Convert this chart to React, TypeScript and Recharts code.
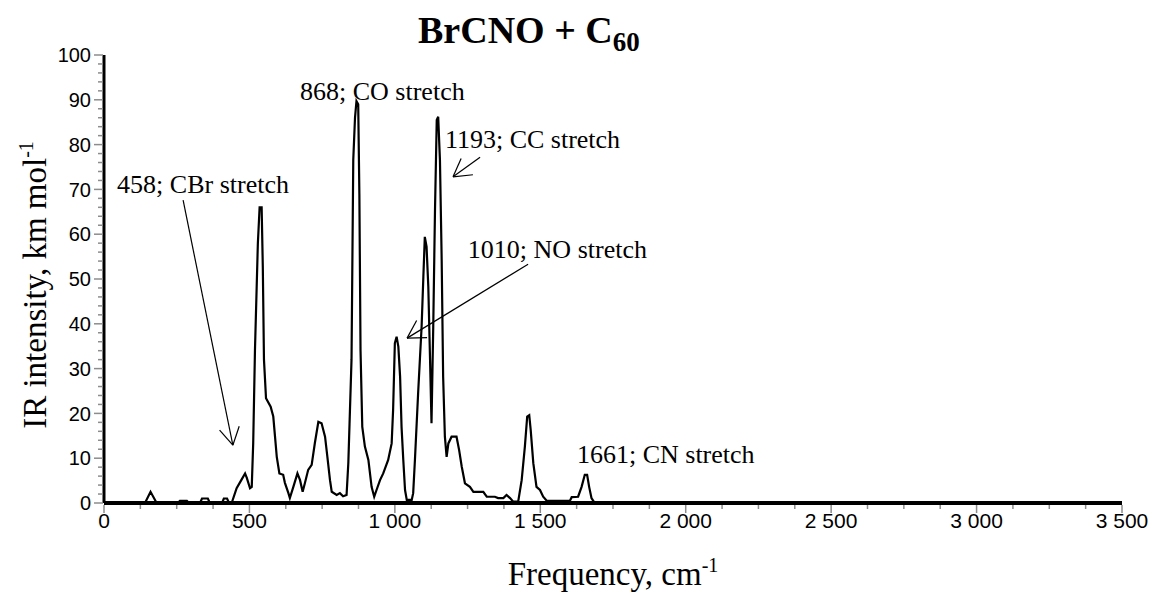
import { LineChart, Line, XAxis, YAxis, ReferenceLine, ReferenceDot, Label } from "recharts";

// spectrum: frequency (cm-1) and IR intensity (km/mol)
const FREQ = [
  0, 141, 160, 181, 254, 261, 285, 292, 330, 337, 357, 364, 406, 412, 423, 430, 439, 456, 471, 485, 491, 502, 508, 513, 519,
  529, 535, 542, 546, 550, 557, 573, 582, 588, 594, 603, 616, 622, 634, 639, 651, 665, 674, 683, 691, 702, 714, 725, 737, 748,
  760, 768, 777, 783, 800, 811, 822, 834, 840, 851, 857, 863, 868, 874, 878, 882, 888, 897, 909, 920, 929, 937, 949, 960, 977,
  989, 994, 1000, 1006, 1012, 1018, 1023, 1029, 1035, 1041, 1058, 1063, 1069, 1080, 1092, 1098, 1103, 1109, 1115, 1121, 1126,
  1132, 1138, 1144, 1149, 1155, 1161, 1166, 1172, 1178, 1184, 1195, 1212, 1221, 1230, 1241, 1258, 1270, 1304, 1316, 1344,
  1355, 1373, 1384, 1396, 1407, 1424, 1436, 1447, 1455, 1462, 1467, 1476, 1487, 1499, 1510, 1522, 1602, 1608, 1630, 1642,
  1653, 1661, 1668, 1676, 1684, 1691, 3500,
];
const INTENSITY = [
  0, 0, 2.5, 0, 0, 0.5, 0.5, 0, 0, 1, 1, 0, 0, 1, 1, 0, 0, 3.3, 5, 6.6, 5.6, 3.3, 3.6, 13.4, 34,
  58, 66, 66, 52.7, 32, 23.4, 21.5, 19.3, 14.8, 10.3, 6.6, 6.3, 4.5, 2.2, 1.1, 3.6, 6.6, 5.1, 2.5, 4.5, 7.4, 8.5, 13.4, 18.1, 17.8,
  14.8, 10.3, 5.1, 2.5, 1.8, 2.2, 1.5, 1.8, 8.9, 32, 76.6, 86, 89.7, 89, 69, 34, 17, 12.6, 9.6, 3.6, 1.4, 2.9, 5.1, 6.6, 9.6,
  13.3, 20.8, 35.7, 37.1, 34.9, 28.2, 17, 9.6, 2.9, 0.7, 0.7, 2.2, 9.6, 24.5, 39.4, 50.5, 59.4, 57.2, 48.3, 32, 17.8,
  39.4, 65.4, 85.5, 86.2, 76.6, 54.2, 28.2, 14.8, 10.3, 13.3, 14.8, 14.8, 11.8, 8.1, 4.4, 3.6, 2.5, 2.5, 1.4, 1.4,
  1.1, 1.1, 1.8, 1.1, 0.3, 0.3, 5.1, 12.6, 19.3, 19.6, 16.3, 8.9, 3.6, 2.9, 1.4, 0.5, 0.5, 1.3, 1.4, 3.6,
  6.3, 6.3, 3.6, 1.1, 0.3, 0, 0,
];

const X_TICKS = Array.from({ length: 29 }, (_, i) => i * 125);
const Y_TICKS = Array.from({ length: 51 }, (_, i) => i * 2);

// annotation texts (left edge, baseline) in data units
const NOTES = [
  { text: "868; CO stretch", x: 674, y: 90 },
  { text: "1193; CC stretch", x: 1172, y: 79.2 },
  { text: "458; CBr stretch", x: 45, y: 69.2 },
  { text: "1010; NO stretch", x: 1251, y: 54.7 },
  { text: "1661; CN stretch", x: 1626, y: 8.9 },
];
// arrows: tail -> head in data units
const ARROWS = [
  { from: { x: 272, y: 67.6 }, to: { x: 443, y: 12.9 } },
  { from: { x: 1293, y: 77.2 }, to: { x: 1200, y: 72.8 } },
  { from: { x: 1458, y: 53.3 }, to: { x: 1042, y: 36.8 } },
];

const data = FREQ.map((f, i) => ({ f, v: INTENSITY[i] }));

const SERIF = "'Liberation Serif', 'Times New Roman', serif";
const SANS = "'Liberation Sans', Arial, sans-serif";

function fmt(v: number) {
  if (v < 1000) return String(v);
  return `${Math.floor(v / 1000)}\u00a0${String(v % 1000).padStart(3, "0")}`;
}

function XTick(props: any) {
  const { x, y, payload } = props;
  const major = payload.value % 500 === 0;
  return (
    <g>
      <line x1={x} x2={x} y1={y + 2} y2={y + (major ? 10 : 6)} stroke="#8c8c8c" strokeWidth={1.5} />
      {major && (
        <text x={x} y={y + 25} textAnchor="middle" fontSize={21} fontFamily={SANS} fill="#000">
          {fmt(payload.value)}
        </text>
      )}
    </g>
  );
}

function YTick(props: any) {
  const { x, y, payload } = props;
  const major = payload.value % 10 === 0;
  return (
    <g>
      <line x1={x - (major ? 10 : 6)} x2={x - 1} y1={y} y2={y} stroke="#8c8c8c" strokeWidth={1.5} />
      {major && (
        <text x={x - 13} y={y} dy="0.36em" textAnchor="end" fontSize={20} fontFamily={SANS} fill="#000">
          {payload.value}
        </text>
      )}
    </g>
  );
}

function Arrow(props: any) {
  const { x1, y1, x2, y2 } = props;
  const ang = Math.atan2(y1 - y2, x1 - x2);
  const len = 20;
  const w = Math.PI / 6;
  return (
    <g>
      <line x1={x1} y1={y1} x2={x2} y2={y2} stroke="#000" strokeWidth={1.2} />
      <line x1={x2} y1={y2} x2={x2 + len * Math.cos(ang - w)} y2={y2 + len * Math.sin(ang - w)} stroke="#000" strokeWidth={1.2} />
      <line x1={x2} y1={y2} x2={x2 + len * Math.cos(ang + w)} y2={y2 + len * Math.sin(ang + w)} stroke="#000" strokeWidth={1.2} />
    </g>
  );
}

export default function App() {
  return (
    <div style={{ position: "absolute", left: 0, top: 0, width: 1151, height: 593, background: "#fff" }}>
      <div
        style={{
          position: "absolute",
          left: 418,
          top: 11,
          fontFamily: SERIF,
          fontWeight: "bold",
          fontSize: 38,
          lineHeight: 1,
          whiteSpace: "nowrap",
        }}
      >
        BrCNO + C<span style={{ fontSize: 27, position: "relative", top: 8 }}>60</span>
      </div>
      <LineChart width={1151} height={593} data={data} margin={{ top: 55, right: 29, left: 0, bottom: 0 }}>
        <XAxis
          dataKey="f"
          type="number"
          domain={[0, 3500]}
          ticks={X_TICKS}
          interval={0}
          tickSize={0}
          tickMargin={0}
          tickLine={false}
          tick={<XTick />}
          height={90}
          axisLine={{ stroke: "#000", strokeWidth: 4 }}
        >
          <Label
            content={() => (
              <text x={613} y={585} textAnchor="middle" fontFamily={SERIF} fontSize={33} fill="#000">
                Frequency, cm<tspan dy={-13} fontSize={20}>-1</tspan>
              </text>
            )}
          />
        </XAxis>
        <YAxis
          type="number"
          domain={[0, 100]}
          ticks={Y_TICKS}
          interval={0}
          tickSize={0}
          tickMargin={0}
          tickLine={false}
          tick={<YTick />}
          width={104}
          axisLine={{ stroke: "#000", strokeWidth: 3 }}
        >
          <Label
            content={() => (
              <text transform="translate(46,285) rotate(-90)" textAnchor="middle" fontFamily={SERIF} fontSize={33} fill="#000">
                IR intensity, km mol<tspan dy={-13} fontSize={20}>-1</tspan>
              </text>
            )}
          />
        </YAxis>
        <Line type="linear" dataKey="v" stroke="#000" strokeWidth={2.2} dot={false} isAnimationActive={false} />
        {ARROWS.map((a, i) => (
          <ReferenceLine key={i} segment={[a.from, a.to]} shape={(p: any) => <Arrow {...p} />} />
        ))}
        {NOTES.map((n) => (
          <ReferenceDot
            key={n.text}
            x={n.x}
            y={n.y}
            r={0}
            shape={(p: any) => (
              <text x={p.cx} y={p.cy} fontFamily={SERIF} fontSize={26} fill="#000">
                {n.text}
              </text>
            )}
          />
        ))}
      </LineChart>
    </div>
  );
}
